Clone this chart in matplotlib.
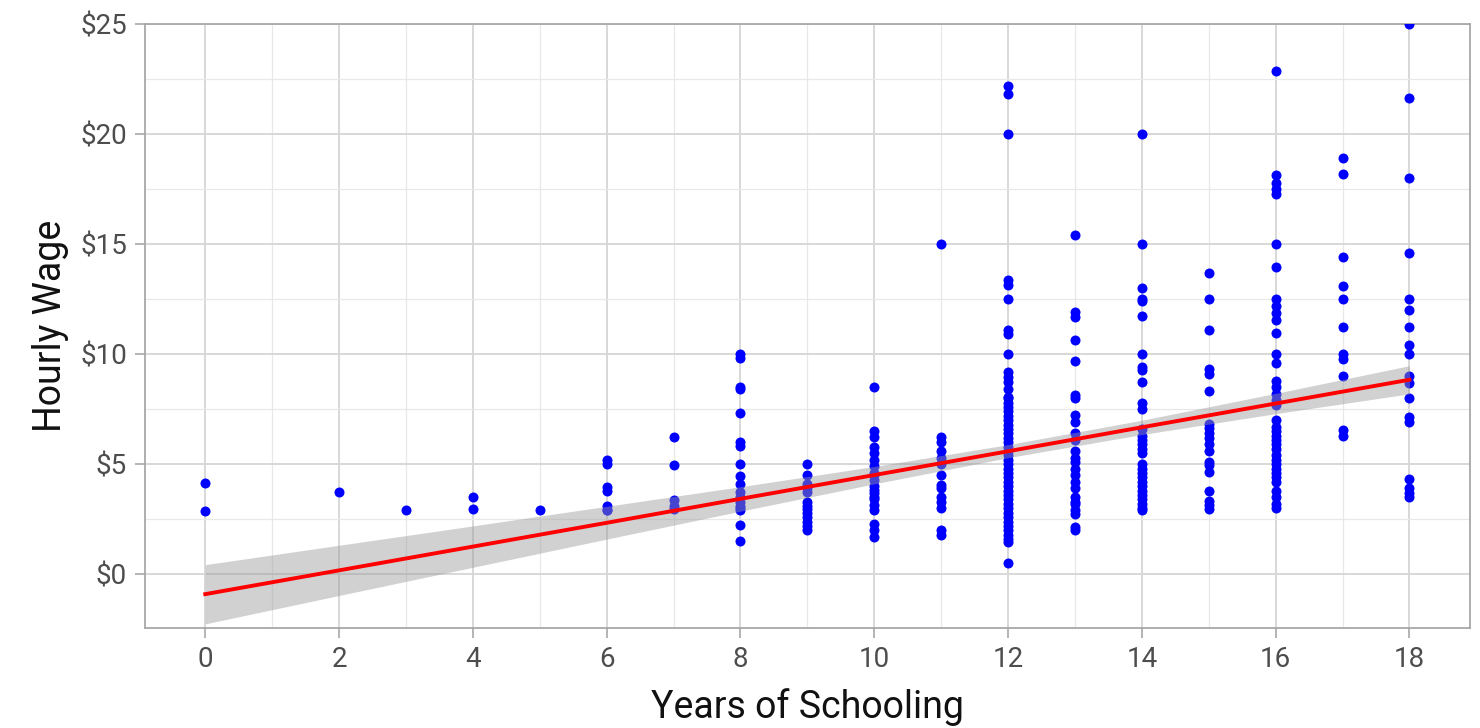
import matplotlib.pyplot as plt
from matplotlib.ticker import MultipleLocator, FuncFormatter

wages_by_educ = {
    0: [4.17, 2.89],
    2: [3.74],
    3: [2.92],
    4: [3.51, 2.98],
    5: [2.91],
    6: [5.21, 4.99, 3.97, 3.77, 3.12, 2.9, 2.92],
    7: [6.25, 4.95, 3.36, 3.1, 2.95],
    8: [10.0, 9.85, 8.5, 8.4, 7.35, 6.0, 5.85, 5.0, 4.45, 4.1, 3.75, 3.5,
        3.3, 3.1, 3.0, 2.9, 2.25, 1.5],
    9: [5.0, 4.5, 4.1, 3.9, 3.75, 3.3, 3.1, 2.95, 2.8, 2.6, 2.4, 2.2, 2.0],
    10: [8.5, 6.5, 6.25, 5.8, 5.5, 5.2, 4.9, 4.6, 4.5, 4.3, 4.0, 3.85, 3.7,
         3.5, 3.4, 3.15, 2.9, 2.3, 2.0, 1.7],
    11: [15.0, 6.25, 6.0, 5.6, 5.3, 5.0, 4.5, 4.05, 3.9, 3.5, 3.3, 3.0,
         2.0, 1.8],
    12: [22.18, 21.82, 20.0, 13.36, 13.14, 12.49, 11.09, 10.91, 10.0, 9.2,
         8.97, 8.74, 8.44, 8.06, 8.0, 7.8, 7.6, 7.4, 7.2, 7.0, 6.8, 6.6,
         6.4, 6.2, 6.0, 5.8, 5.6, 5.4, 5.2, 5.0, 4.8, 4.6, 4.4, 4.2, 4.0,
         3.8, 3.6, 3.4, 3.2, 3.0, 2.8, 2.6, 2.4, 2.2, 2.0, 1.8, 1.6, 1.45,
         0.53],
    13: [15.4, 11.9, 11.7, 10.65, 9.7, 8.15, 8.0, 7.25, 6.9, 6.4, 6.1, 5.6,
         5.3, 5.1, 4.8, 4.5, 4.2, 3.9, 3.5, 3.3, 3.2, 2.9, 2.75, 2.15, 2.0],
    14: [20.0, 15.0, 13.0, 12.5, 12.4, 11.75, 10.0, 9.4, 9.3, 8.75, 7.8,
         7.5, 6.6, 6.3, 6.1, 5.9, 5.7, 5.5, 5.0, 4.8, 4.6, 4.4, 4.2, 4.0,
         3.8, 3.6, 3.4, 3.2, 3.0, 2.9],
    15: [13.7, 12.5, 11.1, 9.35, 9.1, 8.35, 6.85, 6.65, 6.4, 6.2, 5.9, 5.6,
         5.1, 4.95, 4.65, 3.8, 3.35, 3.15, 2.98],
    16: [22.85, 18.15, 17.8, 17.5, 17.3, 15.0, 13.95, 12.5, 12.2, 11.85,
         11.55, 10.95, 10.0, 9.6, 8.8, 8.5, 8.2, 7.9, 7.7, 7.0, 6.7, 6.5,
         6.3, 6.1, 5.9, 5.7, 5.4, 5.2, 5.0, 4.8, 4.6, 4.4, 4.2, 3.8, 3.5,
         3.2, 3.0],
    17: [18.9, 18.2, 14.4, 13.1, 12.5, 11.25, 10.0, 9.8, 9.0, 6.55, 6.3],
    18: [25.0, 21.65, 18.0, 14.6, 12.5, 12.0, 11.25, 10.4, 10.0, 9.0, 8.7,
         8.0, 7.15, 6.9, 4.35, 3.9, 3.7, 3.5],
}

# fitted line and 95% band
fit_x = [0, 2, 4, 6, 8, 10, 12, 14, 16, 18]
fit_y = [-0.9, 0.18, 1.26, 2.34, 3.43, 4.51, 5.59, 6.68, 7.76, 8.84]
band_lo = [-2.25, -0.96, 0.32, 1.60, 2.87, 4.11, 5.30, 6.35, 7.30, 8.20]
band_hi = [0.44, 1.32, 2.20, 3.09, 3.98, 4.90, 5.89, 7.00, 8.22, 9.48]


def main():
    plt.rcParams['font.family'] = ['Roboto', 'DejaVu Sans']

    educ = []
    wage = []
    for k, vals in wages_by_educ.items():
        for v in vals:
            educ.append(k)
            wage.append(v)

    fig = plt.figure(figsize=(14.8, 7.28), dpi=100)
    ax = fig.add_axes([0.098, 0.137, 0.895, 0.830])

    ax.scatter(educ, wage, s=52, color='#0000ff', linewidths=0, zorder=3)
    ax.fill_between(fit_x, band_lo, band_hi, color='#999999', alpha=0.45,
                    linewidth=0, zorder=4)
    ax.plot(fit_x, fit_y, color='#ff0000', lw=2.8, zorder=5)

    ax.set_xlim(-0.9, 18.9)
    ax.set_ylim(-2.45, 25)
    ax.xaxis.set_major_locator(MultipleLocator(2))
    ax.xaxis.set_minor_locator(MultipleLocator(1))
    ax.yaxis.set_major_locator(MultipleLocator(5))
    ax.yaxis.set_minor_locator(MultipleLocator(2.5))
    ax.yaxis.set_major_formatter(FuncFormatter(lambda v, p: "$%d" % v))

    ax.grid(which='major', color='#d6d6d6', lw=1.3, zorder=0)
    ax.grid(which='minor', color='#e8e8e8', lw=0.9, zorder=0)
    ax.set_axisbelow(True)

    for s in ax.spines.values():
        s.set_color('#a8a8a8')
        s.set_linewidth(1.3)

    ax.tick_params(which='major', length=7, width=1.2, color='#a8a8a8',
                   labelsize=20, labelcolor='#4d4d4d', pad=6)
    ax.tick_params(which='minor', length=0)

    ax.set_xlabel("Years of Schooling", fontsize=27, color='#111111',
                  labelpad=11)
    ax.set_ylabel("Hourly Wage", fontsize=27, color='#111111', labelpad=8)

    fig.savefig("out.png", dpi=100)


if __name__ == "__main__":
    main()
